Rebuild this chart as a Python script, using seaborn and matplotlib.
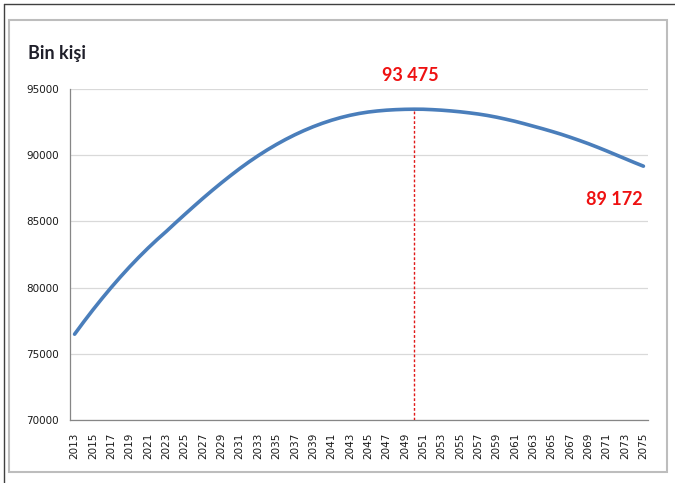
import matplotlib
matplotlib.use("Agg")
import matplotlib.pyplot as plt
import numpy as np
import pandas as pd
import seaborn as sns
from matplotlib.lines import Line2D
from matplotlib.patches import Rectangle
from matplotlib.ticker import FixedLocator, NullFormatter

# Projected population of Turkey, thousands of people
years = list(range(2013, 2076))
population = [
    76481, 77419, 78321, 79187, 80017, 80811, 81570, 82293, 82980, 83631,
    84247, 84890, 85520, 86140, 86750, 87340, 87910, 88460, 88990, 89490,
    89960, 90400, 90810, 91190, 91540, 91860, 92150, 92410, 92640, 92840,
    93010, 93150, 93260, 93340, 93400, 93440, 93465, 93475, 93470, 93440,
    93400, 93345, 93280, 93200, 93110, 93000, 92870, 92720, 92560, 92380,
    92190, 92000, 91800, 91590, 91360, 91120, 90870, 90600, 90320, 90030,
    89740, 89450, 89172,
]
y_ticks = [70000, 75000, 80000, 85000, 90000, 95000]
label_years = years[::2]
unit_label = "Bin kişi"

sns.set_style("white")
plt.rcParams["font.family"] = ["DejaVu Sans"]

W, H = 675, 483
fig = plt.figure(figsize=(W / 100, H / 100), dpi=100)
fig.patch.set_facecolor("white")

# plot area in pixel terms: x 70..648, y 89..420
ax = fig.add_axes([70 / W, 1 - 420 / H, (648 - 70) / W, (420 - 89) / H])

df = pd.DataFrame({"Yıl": years, "Nüfus": population})
sns.lineplot(data=df, x="Yıl", y="Nüfus", ax=ax, color="#4A7EBB",
             linewidth=2.6, solid_capstyle="round", zorder=3)

ax.set_xlim(years[0] - 0.5, years[-1] + 0.5)
ax.set_ylim(y_ticks[0], y_ticks[-1])
ax.set_xlabel("")
ax.set_ylabel("")

# horizontal gridlines
ax.set_yticks(y_ticks)
ax.set_yticklabels([str(v) for v in y_ticks])
ax.yaxis.grid(True, color="#D9D9D9", linewidth=0.9)
ax.xaxis.grid(False)
ax.set_axisbelow(True)

# category-style x axis: labels every other year, tick marks between years
ax.xaxis.set_major_locator(FixedLocator(label_years))
ax.set_xticklabels([str(y) for y in label_years], rotation=90)
ax.xaxis.set_minor_locator(FixedLocator([y - 0.5 for y in years] + [years[-1] + 0.5]))
ax.xaxis.set_minor_formatter(NullFormatter())
ax.tick_params(axis="x", which="major", length=0, pad=9,
               labelsize=7.5, labelcolor="#1a1a1a")
ax.tick_params(axis="x", which="minor", length=4, width=0.9,
               color="#868686", direction="out")
ax.tick_params(axis="y", which="major", length=4, width=0.9,
               color="#868686", direction="out", pad=4,
               labelsize=7.5, labelcolor="#1a1a1a")

for side in ("top", "right"):
    ax.spines[side].set_visible(False)
for side in ("left", "bottom"):
    ax.spines[side].set_color("#868686")
    ax.spines[side].set_linewidth(0.9)

# peak marker and labels
pk = int(np.argmax(population))
peak_year, peak_val = years[pk], population[pk]
ax.vlines(peak_year, y_ticks[0], peak_val, colors="#E01818",
          linestyles=(0, (2, 1.5)), linewidth=1.0, zorder=4)


def fmt(v):
    return f"{v:,}".replace(",", " ")


ax.annotate(fmt(peak_val), xy=(peak_year, peak_val),
            xytext=(-4, 34), textcoords="offset pixels",
            ha="center", va="center", color="#EE1111",
            fontsize=13, fontweight="bold", family=["Lato", "DejaVu Sans"],
            annotation_clip=False)
ax.annotate(fmt(population[-1]), xy=(years[-1], population[-1]),
            xytext=(-29, -33), textcoords="offset pixels",
            ha="center", va="center", color="#EE1111",
            fontsize=13, fontweight="bold", family=["Lato", "DejaVu Sans"],
            annotation_clip=False)

# unit caption
fig.text(28 / W, 1 - 53 / H, unit_label, ha="left", va="center",
         fontsize=13, fontweight="bold", color="#1F1F2A",
         family=["Lato", "DejaVu Sans"])

# frames
fig.add_artist(Line2D([4 / W, 4 / W], [0, 1 - 4 / H], transform=fig.transFigure,
                      color="#404040", linewidth=1.0))
fig.add_artist(Line2D([4 / W, 1], [1 - 4 / H, 1 - 4 / H], transform=fig.transFigure,
                      color="#404040", linewidth=1.0))
fig.add_artist(Rectangle((9 / W, 1 - 472 / H), (667 - 9) / W, (472 - 20) / H,
                         transform=fig.transFigure, fill=False,
                         edgecolor="#BDBDBD", linewidth=1.5))

fig.savefig("out.png", dpi=100)
